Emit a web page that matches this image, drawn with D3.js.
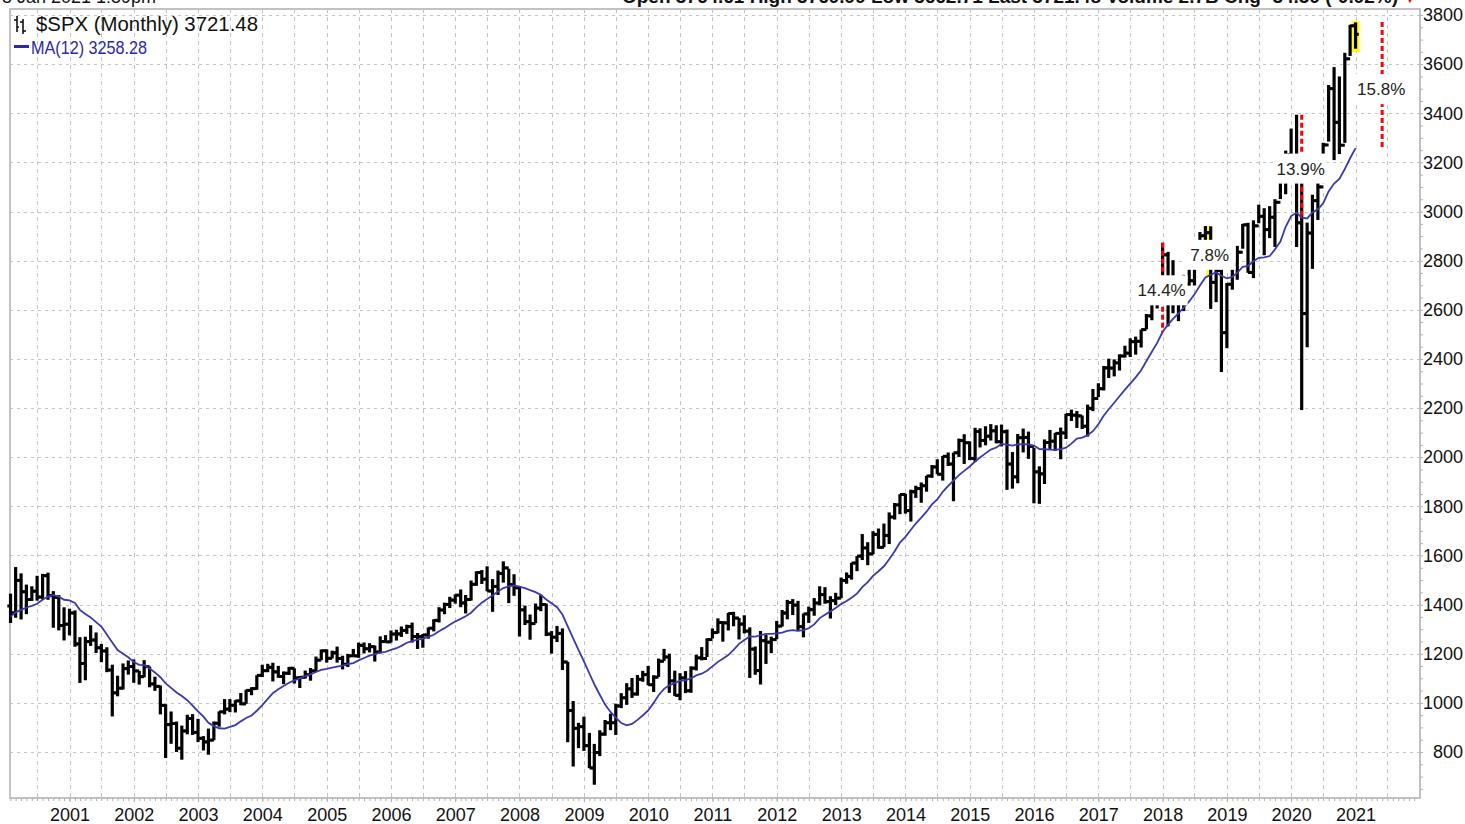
<!DOCTYPE html>
<html>
<head>
<meta charset="utf-8">
<script src="https://cdn.jsdelivr.net/npm/d3@7"></script>
<style>
  html, body { margin: 0; background: #fff; }
  svg { display: block; font-family: Arial, "Liberation Sans", sans-serif; }
</style>
</head>
<body>
<svg id="chart" width="1465" height="824"></svg>
<script>
// monthly $SPX bars, Feb 2000 .. Jan 2021
const firstMonth = new Date(2000, 1, 1);

// closes Mar 1999 .. Jan 2000, only used to start the MA(12)
const warmupCloses = [1286.37, 1335.18, 1301.84, 1372.71, 1328.72, 1320.41, 1282.71, 1362.93, 1388.91, 1469.25, 1394.46];

const highs = [
  1444.55, 1552.87, 1527.19, 1481.51, 1474.63, 1517.32, 1525.21, 1530.09, 1454.82, 1438.46, 1389.06,
  1383.37, 1376.38, 1267.42, 1269.30, 1315.93, 1286.62, 1239.78, 1226.27, 1155.40, 1110.61, 1160.55, 1172.51,
  1176.97, 1130.20, 1173.94, 1147.84, 1106.59, 1070.74, 994.46, 965.00, 924.02, 907.44, 951.57, 954.28,
  935.05, 864.64, 895.34, 924.24, 965.38, 1015.33, 1015.41, 1011.01, 1040.29, 1053.79, 1063.65, 1112.56,
  1155.38, 1158.98, 1163.23, 1150.57, 1127.74, 1146.18, 1140.84, 1108.60, 1131.54, 1142.05, 1188.46, 1217.33,
  1217.80, 1212.44, 1229.11, 1191.88, 1199.56, 1219.59, 1245.15, 1245.86, 1243.13, 1233.34, 1270.64, 1275.80,
  1294.90, 1297.57, 1310.88, 1318.16, 1326.70, 1284.47, 1280.42, 1306.74, 1340.28, 1389.45, 1407.89, 1431.81,
  1441.61, 1461.57, 1438.89, 1498.02, 1535.56, 1540.56, 1555.90, 1503.89, 1538.74, 1576.09, 1545.79, 1523.57,
  1471.77, 1396.02, 1359.68, 1404.57, 1440.24, 1404.05, 1292.17, 1313.15, 1303.04, 1167.03, 1007.51, 918.85,
  943.85, 877.86, 832.98, 888.70, 930.17, 956.23, 996.68, 1039.47, 1080.15, 1101.36, 1113.69, 1130.38,
  1150.45, 1112.42, 1180.16, 1219.80, 1200.26, 1131.23, 1120.95, 1129.24, 1148.90, 1196.14, 1227.08, 1262.60,
  1302.67, 1344.07, 1332.28, 1366.37, 1370.58, 1345.20, 1356.48, 1307.38, 1229.29, 1292.66, 1277.55, 1269.37,
  1333.47, 1378.04, 1419.15, 1422.38, 1415.32, 1363.46, 1391.74, 1426.68, 1474.51, 1470.96, 1434.27, 1448.00,
  1509.94, 1530.94, 1570.28, 1597.57, 1687.18, 1654.19, 1698.78, 1709.67, 1729.86, 1775.22, 1813.55, 1849.44,
  1850.84, 1867.92, 1883.97, 1897.28, 1924.03, 1968.17, 1991.39, 2005.04, 2019.26, 2018.19, 2075.76, 2093.55,
  2064.43, 2119.59, 2117.52, 2125.92, 2134.72, 2129.87, 2132.82, 2112.66, 2020.86, 2094.32, 2116.48, 2104.27,
  2038.20, 1962.96, 2072.21, 2111.05, 2099.06, 2120.55, 2177.09, 2193.81, 2187.87, 2169.60, 2214.10, 2277.53,
  2300.99, 2371.54, 2400.98, 2398.16, 2418.71, 2453.82, 2484.04, 2490.87, 2519.44, 2582.98, 2657.74, 2694.97,
  2872.87, 2835.96, 2801.90, 2717.49, 2742.24, 2791.47, 2848.03, 2916.50, 2940.91, 2939.86, 2815.15, 2800.18,
  2708.95, 2813.49, 2860.31, 2949.52, 2954.13, 2964.15, 3027.98, 3013.59, 3021.99, 3050.10, 3154.26, 3247.93,
  3337.77, 3393.52, 3136.72, 2954.86, 3068.67, 3233.13, 3279.99, 3514.77, 3588.11, 3549.85, 3645.99, 3760.20,
  3769.99
];

const lows = [
  1325.07, 1346.62, 1339.40, 1361.09, 1415.00, 1416.00, 1421.00, 1419.44, 1305.79, 1294.90, 1254.07,
  1274.62, 1228.33, 1081.19, 1091.99, 1232.00, 1203.03, 1165.54, 1124.87, 944.75, 1026.76, 1054.31, 1114.93,
  1081.66, 1074.36, 1104.00, 1063.46, 1048.96, 952.92, 775.68, 833.44, 800.20, 768.63, 872.05, 869.45,
  840.34, 806.29, 788.90, 847.85, 902.83, 953.00, 962.10, 960.84, 990.36, 996.00, 1031.20, 1053.41,
  1105.08, 1124.91, 1087.16, 1102.00, 1076.32, 1113.32, 1078.78, 1060.72, 1099.18, 1090.19, 1127.60, 1173.82,
  1163.75, 1180.95, 1163.69, 1136.15, 1146.18, 1188.30, 1183.55, 1201.07, 1205.35, 1168.20, 1201.07, 1246.59,
  1245.74, 1253.61, 1268.42, 1280.74, 1245.34, 1219.29, 1224.54, 1261.30, 1290.93, 1327.10, 1360.98, 1385.93,
  1403.97, 1389.42, 1363.98, 1416.37, 1476.70, 1484.18, 1454.25, 1370.60, 1439.29, 1489.56, 1406.10, 1435.65,
  1270.05, 1316.75, 1256.98, 1324.35, 1373.07, 1272.00, 1200.44, 1247.45, 1133.50, 839.80, 741.02, 815.69,
  804.47, 734.52, 666.79, 783.32, 866.10, 888.86, 869.32, 978.51, 991.97, 1020.18, 1029.38, 1085.89,
  1071.59, 1044.50, 1105.24, 1170.69, 1040.78, 1028.33, 1010.91, 1039.70, 1041.11, 1131.87, 1173.00, 1186.60,
  1262.18, 1282.86, 1249.05, 1294.70, 1311.80, 1258.07, 1282.86, 1101.54, 1114.22, 1074.77, 1158.66, 1202.37,
  1258.86, 1310.73, 1340.03, 1357.38, 1291.98, 1266.74, 1325.41, 1354.65, 1396.56, 1403.28, 1343.35, 1398.11,
  1426.19, 1485.01, 1501.48, 1536.03, 1581.28, 1560.33, 1604.57, 1627.47, 1633.41, 1646.47, 1746.20, 1767.99,
  1770.45, 1737.92, 1834.44, 1814.36, 1859.79, 1915.98, 1930.67, 1904.78, 1964.04, 1820.66, 2001.01, 1972.56,
  1988.12, 1980.90, 2039.69, 2048.38, 2067.93, 2056.32, 2044.02, 1867.01, 1871.91, 1893.70, 2019.39, 1993.26,
  1812.29, 1810.10, 1891.00, 2033.80, 2025.91, 1991.68, 2074.02, 2147.58, 2119.12, 2114.72, 2083.79, 2187.44,
  2245.13, 2271.65, 2322.25, 2328.95, 2352.72, 2405.70, 2407.70, 2417.35, 2446.55, 2520.40, 2557.45, 2605.52,
  2682.36, 2532.69, 2585.89, 2553.80, 2594.62, 2698.67, 2698.95, 2796.34, 2864.12, 2603.54, 2631.09, 2346.58,
  2443.96, 2681.83, 2722.27, 2848.63, 2750.52, 2728.81, 2952.22, 2822.12, 2891.85, 2855.94, 3050.72, 3070.33,
  3214.64, 2855.84, 2191.86, 2447.49, 2766.64, 2965.66, 3115.01, 3284.53, 3209.45, 3233.94, 3279.74, 3633.40,
  3662.71
];

const closes = [
  1366.42, 1498.58, 1452.43, 1420.60, 1454.60, 1430.83, 1517.68, 1436.51, 1429.40, 1314.95, 1320.28,
  1366.01, 1239.94, 1160.33, 1249.46, 1255.82, 1224.42, 1211.23, 1133.58, 1040.94, 1059.78, 1139.45, 1148.08,
  1130.20, 1106.73, 1147.39, 1076.92, 1067.14, 989.82, 911.62, 916.07, 815.28, 885.76, 936.31, 879.82,
  855.70, 841.15, 848.18, 916.92, 963.59, 974.50, 990.31, 1008.01, 995.97, 1050.71, 1058.20, 1111.92,
  1131.13, 1144.94, 1126.21, 1107.30, 1120.68, 1140.84, 1101.72, 1104.24, 1114.58, 1130.20, 1173.82, 1211.92,
  1181.27, 1203.60, 1180.59, 1156.85, 1191.50, 1191.33, 1234.18, 1220.33, 1228.81, 1207.01, 1249.48, 1248.29,
  1280.08, 1280.66, 1294.87, 1310.61, 1270.09, 1270.20, 1276.66, 1303.82, 1335.85, 1377.94, 1400.63, 1418.30,
  1438.24, 1406.82, 1420.86, 1482.37, 1530.62, 1503.35, 1455.27, 1473.99, 1526.75, 1549.38, 1481.14, 1468.36,
  1378.55, 1330.63, 1322.70, 1385.59, 1400.38, 1280.00, 1267.38, 1282.83, 1166.36, 968.75, 896.24, 903.25,
  825.88, 735.09, 797.87, 872.81, 919.14, 919.32, 987.48, 1020.62, 1057.08, 1036.19, 1095.63, 1115.10,
  1073.87, 1104.49, 1169.43, 1186.69, 1089.41, 1030.71, 1101.60, 1049.33, 1141.20, 1183.26, 1180.55, 1257.64,
  1286.12, 1327.22, 1325.83, 1363.61, 1345.20, 1320.64, 1292.28, 1218.89, 1131.42, 1253.30, 1246.96, 1257.60,
  1312.41, 1365.68, 1408.47, 1397.91, 1310.33, 1362.16, 1379.32, 1406.58, 1440.67, 1412.16, 1416.18, 1426.19,
  1498.11, 1514.68, 1569.19, 1597.57, 1630.74, 1606.28, 1685.73, 1632.97, 1681.55, 1756.54, 1805.81, 1848.36,
  1782.59, 1859.45, 1872.34, 1883.95, 1923.57, 1960.23, 1930.67, 2003.37, 1972.29, 2018.05, 2067.56, 2058.90,
  1994.99, 2104.50, 2067.89, 2085.51, 2107.39, 2063.11, 2103.84, 1972.18, 1920.03, 2079.36, 2080.41, 2043.94,
  1940.24, 1932.23, 2059.74, 2065.30, 2096.95, 2098.86, 2173.60, 2170.95, 2168.27, 2126.15, 2198.81, 2238.83,
  2278.87, 2363.64, 2362.72, 2384.20, 2411.80, 2423.41, 2470.30, 2471.65, 2519.36, 2575.26, 2647.58, 2673.61,
  2823.81, 2713.83, 2640.87, 2648.05, 2705.27, 2718.37, 2816.29, 2901.52, 2913.98, 2711.74, 2760.17, 2506.85,
  2704.10, 2784.49, 2834.40, 2945.83, 2752.06, 2941.76, 2980.38, 2926.46, 2976.74, 3037.56, 3140.98, 3230.78,
  3225.52, 2954.22, 2584.59, 2912.43, 3044.31, 3100.29, 3271.12, 3500.31, 3363.00, 3269.96, 3621.63, 3756.07,
  3721.48
];

// annotation marks (high above the MA)
const noteMonths = ["2018-01", "2018-10", "2020-03", "2021-06"];
const noteTops = [2873, 2941, 3394, 3771];
const noteBases = [2510, 2731, 2980, 3250];
const noteLabels = ["14.4%", "7.8%", "13.9%", "15.8%"];
const noteColors = ["#ff0000", "#ffff00", "#ff0000", "#ff0000"];

const yTicks = d3.range(800, 3801, 200);
const headerLeft = "5 Jan 2021 1:59pm";
const headerRight = "Open 3764.61  High 3769.99  Low 3662.71  Last 3721.48  Volume 2.7B  Chg -34.59 (-0.92%)";

const plotLeft = 10, plotRight = 1420, plotTop = 9, plotBottom = 798;

const svg = d3.select("#chart");

const x = d3.scaleTime()
  .domain([new Date(2000, 0, 29), new Date(2022, 0, 2)])
  .range([plotLeft, plotRight]);
const y = d3.scaleLinear()
  .domain([3800, 800])
  .range([15, 752]);

const bars = closes.map((c, i) => ({
  date: d3.timeMonth.offset(firstMonth, i),
  open: i === 0 ? warmupCloses[warmupCloses.length - 1] : closes[i - 1],
  high: highs[i],
  low: lows[i],
  close: c
}));

const allCloses = warmupCloses.concat(closes);
const ma = closes.map((_, i) => {
  const w = allCloses.slice(i, i + 12);
  return { date: bars[i].date, value: d3.mean(w) };
});

// grid
const endGrid = new Date(2021, 11, 31);
const gridDates = x.ticks(d3.timeMonth.every(6)).filter((d) => d < endGrid);
svg.append("g")
  .selectAll("line")
  .data(gridDates)
  .join("line")
  .attr("x1", (d) => Math.round(x(d)) + 0.5)
  .attr("x2", (d) => Math.round(x(d)) + 0.5)
  .attr("y1", plotTop)
  .attr("y2", plotBottom)
  .attr("stroke", "#c4c4c4")
  .attr("stroke-dasharray", "4,4");

svg.append("g")
  .selectAll("line")
  .data(yTicks)
  .join("line")
  .attr("x1", plotLeft)
  .attr("x2", plotRight)
  .attr("y1", (d) => Math.round(y(d)) + 0.5)
  .attr("y2", (d) => Math.round(y(d)) + 0.5)
  .attr("stroke", "#c4c4c4")
  .attr("stroke-dasharray", "3,4");

// frame
svg.append("rect")
  .attr("x", plotLeft)
  .attr("y", plotTop)
  .attr("width", plotRight - plotLeft)
  .attr("height", plotBottom - plotTop)
  .attr("fill", "none")
  .attr("stroke", "#c2c2c2")
  .attr("stroke-width", 2);

// axes
const monthTicks = x.ticks(d3.timeMonth.every(1)).filter((d) => d < endGrid);
const yearTicks = x.ticks(d3.timeYear.every(1)).filter((d) => d < endGrid);

svg.append("g")
  .attr("transform", `translate(0,${plotBottom})`)
  .call(d3.axisBottom(x).tickValues(monthTicks).tickSize(3).tickFormat(""))
  .call((g) => g.select(".domain").remove())
  .call((g) => g.selectAll("line").attr("stroke", "#b0b0b0"));

svg.append("g")
  .attr("transform", `translate(0,${plotBottom})`)
  .call(d3.axisBottom(x).tickValues(yearTicks).tickSize(4).tickPadding(6).tickFormat(d3.timeFormat("%Y")))
  .call((g) => g.select(".domain").remove())
  .call((g) => g.selectAll("line").attr("stroke", "#b0b0b0"))
  .call((g) => g.selectAll("text").attr("font-size", 18).attr("fill", "#111"))
  .attr("font-family", null);

svg.append("g")
  .attr("transform", `translate(${plotRight},0)`)
  .call(d3.axisRight(y).tickValues(d3.range(650, 3826, 50)).tickSize(3).tickFormat(""))
  .call((g) => g.select(".domain").remove())
  .call((g) => g.selectAll("line").attr("stroke", "#b0b0b0"));

svg.append("g")
  .attr("transform", `translate(${plotRight},0)`)
  .call(d3.axisRight(y).tickValues(yTicks).tickSize(0).tickFormat(d3.format("d")))
  .call((g) => g.select(".domain").remove())
  .call((g) => g.selectAll("text")
    .attr("x", 43)
    .attr("text-anchor", "end")
    .attr("font-size", 18)
    .attr("fill", "#111"))
  .attr("font-family", null);

// yellow marks behind bars
const noteX = (m) => x(d3.timeParse("%Y-%m")(m));
const notes = noteMonths.map((m, i) => ({
  x: noteX(m), top: noteTops[i], base: noteBases[i], label: noteLabels[i], color: noteColors[i]
}));

svg.append("g")
  .selectAll("line")
  .data(notes.filter((n) => n.color === "#ffff00"))
  .join("line")
  .attr("x1", (d) => d.x - 2)
  .attr("x2", (d) => d.x - 2)
  .attr("y1", (d) => y(d.top))
  .attr("y2", (d) => y(d.base))
  .attr("stroke", "#ffff00")
  .attr("stroke-width", 5);

const last = bars[bars.length - 1];
svg.append("rect")
  .attr("x", x(last.date) - 4)
  .attr("y", y(last.high) - 1)
  .attr("width", 8)
  .attr("height", y(last.low) - y(last.high) + 4)
  .attr("fill", "#ffff00");

// OHLC bars
const barG = svg.append("g").attr("stroke", "#000");
barG.selectAll("line.hl")
  .data(bars)
  .join("line")
  .attr("class", "hl")
  .attr("x1", (d) => x(d.date))
  .attr("x2", (d) => x(d.date))
  .attr("y1", (d) => y(d.high))
  .attr("y2", (d) => y(d.low))
  .attr("stroke-width", 3.2);
barG.selectAll("line.op")
  .data(bars)
  .join("line")
  .attr("class", "op")
  .attr("x1", (d) => x(d.date) - 3.2)
  .attr("x2", (d) => x(d.date))
  .attr("y1", (d) => y(d.open))
  .attr("y2", (d) => y(d.open))
  .attr("stroke-width", 3);
barG.selectAll("line.cl")
  .data(bars)
  .join("line")
  .attr("class", "cl")
  .attr("x1", (d) => x(d.date))
  .attr("x2", (d) => x(d.date) + 3.2)
  .attr("y1", (d) => y(d.close))
  .attr("y2", (d) => y(d.close))
  .attr("stroke-width", 3);

// MA(12)
svg.append("path")
  .datum(ma)
  .attr("fill", "none")
  .attr("stroke", "#3a3aae")
  .attr("stroke-width", 1.8)
  .attr("d", d3.line().x((d) => x(d.date)).y((d) => y(d.value)));

// red marks
svg.append("g")
  .selectAll("line")
  .data(notes.filter((n) => n.color !== "#ffff00"))
  .join("line")
  .attr("x1", (d) => d.x)
  .attr("x2", (d) => d.x)
  .attr("y1", (d) => y(d.top))
  .attr("y2", (d) => y(d.base))
  .attr("stroke", (d) => d.color)
  .attr("stroke-width", 3)
  .attr("stroke-dasharray", "5,3");

// labels with white boxes
const lab = svg.append("g")
  .selectAll("g")
  .data(notes)
  .join("g")
  .attr("transform", (d) => `translate(${d.x - 1},${(y(d.top) + y(d.base)) / 2 + 3})`);
lab.append("rect")
  .attr("x", -26)
  .attr("y", -15)
  .attr("width", 52)
  .attr("height", 30)
  .attr("fill", "#fff");
lab.append("text")
  .attr("text-anchor", "middle")
  .attr("dy", "0.35em")
  .attr("font-size", 17)
  .attr("fill", "#222")
  .text((d) => d.label);

// header (mostly cut off at the top edge, as in the original)
svg.append("text")
  .attr("x", 2)
  .attr("y", 3)
  .attr("font-size", 18)
  .attr("fill", "#111")
  .text(headerLeft);
svg.append("text")
  .attr("x", 1398)
  .attr("y", 3)
  .attr("text-anchor", "end")
  .attr("font-size", 18)
  .attr("font-weight", "bold")
  .attr("fill", "#111")
  .attr("textLength", 776)
  .attr("lengthAdjust", "spacingAndGlyphs")
  .text(headerRight);
svg.append("text")
  .attr("x", 1404)
  .attr("y", 3)
  .attr("font-size", 12)
  .attr("fill", "#e00")
  .text("▼");

// legend
const icon = svg.append("g").attr("stroke", "#111").attr("stroke-width", 1.6);
icon.append("line").attr("x1", 17).attr("x2", 17).attr("y1", 16).attr("y2", 32);
icon.append("line").attr("x1", 14).attr("x2", 17).attr("y1", 20).attr("y2", 20);
icon.append("line").attr("x1", 17).attr("x2", 19).attr("y1", 27).attr("y2", 27);
icon.append("line").attr("x1", 23).attr("x2", 23).attr("y1", 19).attr("y2", 34);
icon.append("line").attr("x1", 20).attr("x2", 23).attr("y1", 22).attr("y2", 22);
icon.append("line").attr("x1", 23).attr("x2", 26).attr("y1", 31).attr("y2", 31);

svg.append("text")
  .attr("x", 36)
  .attr("y", 31)
  .attr("font-size", 20)
  .attr("fill", "#111")
  .attr("textLength", 222)
  .attr("lengthAdjust", "spacingAndGlyphs")
  .text("$SPX (Monthly) " + d3.format(".2f")(last.close));

svg.append("line")
  .attr("x1", 14)
  .attr("x2", 29)
  .attr("y1", 46.5)
  .attr("y2", 46.5)
  .attr("stroke", "#2a2aa8")
  .attr("stroke-width", 3);
svg.append("text")
  .attr("x", 31)
  .attr("y", 54)
  .attr("font-size", 18)
  .attr("fill", "#2a2aa8")
  .attr("textLength", 116)
  .attr("lengthAdjust", "spacingAndGlyphs")
  .text("MA(12) " + d3.format(".2f")(ma[ma.length - 1].value));
</script>
</body>
</html>
